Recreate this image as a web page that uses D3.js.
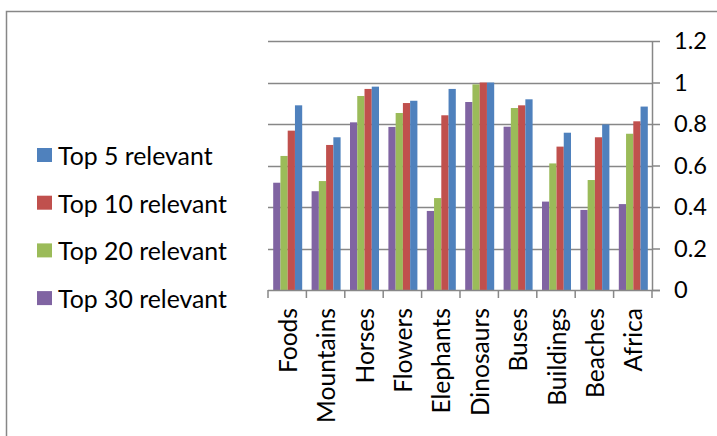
<!DOCTYPE html>
<html><head><meta charset="utf-8">
<script src="https://cdn.jsdelivr.net/npm/d3@7/dist/d3.min.js"></script>
<style>body{margin:0;background:#fff}svg{display:block}</style>
</head><body>
<svg id="chart" width="717" height="436"></svg>
<script>
const categories = ["Foods","Mountains","Horses","Flowers","Elephants","Dinosaurs","Buses","Buildings","Beaches","Africa"];
const seriesNames = ["Top 30 relevant","Top 20 relevant","Top 10 relevant","Top 5 relevant"];
const top30 = [0.517,0.476,0.808,0.786,0.381,0.906,0.787,0.426,0.386,0.414];
const top20 = [0.646,0.525,0.935,0.853,0.443,0.991,0.877,0.610,0.530,0.753];
const top10 = [0.768,0.699,0.969,0.901,0.842,1.000,0.890,0.691,0.736,0.813];
const top5  = [0.890,0.736,0.980,0.912,0.969,1.000,0.919,0.758,0.798,0.884];
const seriesColors = ["#8064A2","#9BBB59","#C0504D","#4F81BD"];
const yTicks = [0,0.2,0.4,0.6,0.8,1,1.2];
const yTickLabels = ["0","0.2","0.4","0.6","0.8","1","1.2"];
const legendOrder = ["Top 5 relevant","Top 10 relevant","Top 20 relevant","Top 30 relevant"];

const seriesValues = [top30, top20, top10, top5];
const svg = d3.select("#chart");
const FONT = "Lato, 'Open Sans', sans-serif";
const GRID = "#878787";

function fitSize(txt, target){
  const t = svg.append("text").attr("font-family", FONT).attr("font-size", 100).text(txt);
  const w = t.node().getComputedTextLength();
  t.remove();
  return 100 * target / w;
}
const catFont = fitSize("Mountains", 115);
const legFont = fitSize("Top 10 relevant", 169);
const tickFont = fitSize("1.2", 33);

// outer border
svg.append("rect").attr("x", 6.5).attr("y", 11.5).attr("width", 760).attr("height", 480)
  .attr("fill", "none").attr("stroke", GRID).attr("stroke-width", 1.5);

const pLeft = 268, pRight = 652, pTop = 41, pBottom = 290;
const x = d3.scaleBand().domain(categories).range([pLeft, pRight]).padding(0);
const xs = d3.scaleBand().domain(seriesNames).range([5.2, x.bandwidth() - 4.2]).padding(0);
const y = d3.scaleLinear().domain([0, 1.2]).range([pBottom, pTop]);

// gridlines
svg.append("g").selectAll("line").data(yTicks.filter(d => d > 0)).join("line")
  .attr("x1", pLeft).attr("x2", pRight)
  .attr("y1", d => Math.round(y(d)) + 0.5).attr("y2", d => Math.round(y(d)) + 0.5)
  .attr("stroke", GRID).attr("stroke-width", 1.5);

// bars
const groups = svg.append("g").selectAll("g").data(categories).join("g")
  .attr("transform", d => `translate(${x(d)},0)`);
groups.selectAll("rect").data((c, i) => seriesNames.map((s, k) => ({s, k, v: seriesValues[k][i]})))
  .join("rect")
  .attr("x", d => xs(d.s)).attr("width", xs.bandwidth())
  .attr("y", d => y(d.v)).attr("height", d => y(0) - y(d.v))
  .attr("fill", d => seriesColors[d.k]);

// right axis
const yAxis = d3.axisRight(y).tickValues(yTicks).tickFormat((d, i) => yTickLabels[i])
  .tickSize(8).tickSizeOuter(0).tickPadding(14);
const ga = svg.append("g").attr("transform", `translate(${pRight},0)`).call(yAxis);
ga.select(".domain").attr("stroke", GRID).attr("stroke-width", 1.5);
ga.selectAll(".tick line").attr("stroke", GRID).attr("stroke-width", 1.5);
ga.selectAll(".tick text").attr("font-family", FONT).attr("font-size", tickFont).attr("fill", "#000");

// bottom axis line and boundary ticks
svg.append("line").attr("x1", pLeft).attr("x2", pRight + 8).attr("y1", pBottom + 0.5).attr("y2", pBottom + 0.5)
  .attr("stroke", GRID).attr("stroke-width", 1.5);
const bounds = categories.map(c => x(c)).concat([pRight]);
svg.append("g").selectAll("line").data(bounds).join("line")
  .attr("x1", d => d).attr("x2", d => d).attr("y1", pBottom).attr("y2", pBottom + 8)
  .attr("stroke", GRID).attr("stroke-width", 1.5);

// category labels
svg.append("g").selectAll("text").data(categories).join("text")
  .attr("transform", d => `translate(${x(d) + x.bandwidth()/2},${pBottom + 18}) rotate(-90)`)
  .attr("text-anchor", "end").attr("dominant-baseline", "central")
  .attr("font-family", FONT).attr("font-size", catFont).attr("fill", "#000")
  .text(d => d);

// legend
const leg = svg.append("g").selectAll("g").data(legendOrder).join("g")
  .attr("transform", (d, i) => `translate(37,${155 + i * 47.7})`);
leg.append("rect").attr("x", 0).attr("y", -7).attr("width", 15).attr("height", 14)
  .attr("fill", d => seriesColors[seriesNames.indexOf(d)]);
leg.append("text").attr("x", 21).attr("y", 0).attr("dominant-baseline", "central")
  .attr("font-family", FONT).attr("font-size", legFont).attr("fill", "#000").text(d => d);
</script>
</body></html>
